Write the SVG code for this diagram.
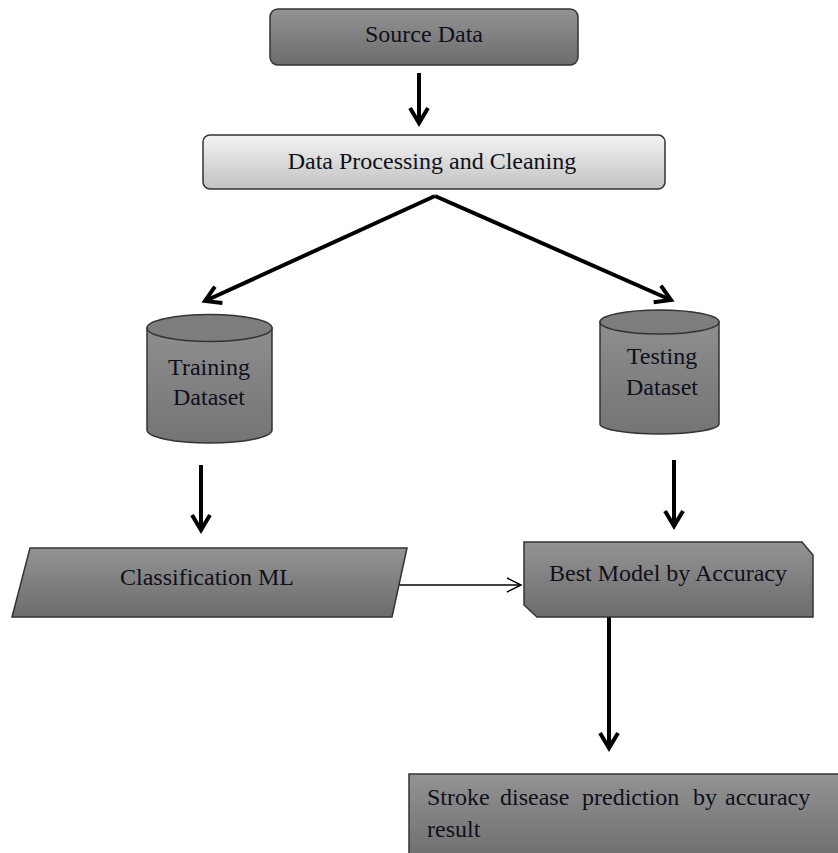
<svg xmlns="http://www.w3.org/2000/svg" width="838" height="853" viewBox="0 0 838 853">
<style>
.t{font-size:24px;fill:#10101c}
.c{text-anchor:middle}
.box{stroke:#333;stroke-width:1.5}
.thick{stroke:#000;stroke-width:4;fill:none}
.thin{stroke:#000;stroke-width:1.5;fill:none}
</style>
<defs>
<linearGradient id="dark" x1="0" y1="0" x2="0" y2="1">
<stop offset="0" stop-color="#939393"/><stop offset="1" stop-color="#6c6c6c"/>
</linearGradient>
<linearGradient id="light" x1="0" y1="0" x2="0" y2="1">
<stop offset="0" stop-color="#f3f3f3"/><stop offset="1" stop-color="#c2c2c2"/>
</linearGradient>
<linearGradient id="cyl" x1="0" y1="0" x2="0" y2="1">
<stop offset="0" stop-color="#8e8e8e"/><stop offset="1" stop-color="#747474"/>
</linearGradient>
<marker id="head" markerUnits="userSpaceOnUse" markerWidth="30" markerHeight="30" viewBox="-20 -15 30 30" refX="0" refY="0" orient="auto">
<path d="M-15,-9 L0,0 L-15,9" fill="none" stroke="#000" stroke-width="4" stroke-linejoin="miter"/>
</marker>
<marker id="headThin" markerUnits="userSpaceOnUse" markerWidth="20" markerHeight="20" viewBox="-16 -10 20 20" refX="0" refY="0" orient="auto">
<path d="M-14,-7 L0,0 L-14,7" fill="none" stroke="#000" stroke-width="1.5"/>
</marker>
</defs>
<rect width="838" height="853" fill="#fff"/>

<g id="connectors">
<line class="thick" x1="419" y1="73" x2="419" y2="123" marker-end="url(#head)"/>
<line class="thick" x1="435" y1="196" x2="205" y2="301" marker-end="url(#head)"/>
<line class="thick" x1="435" y1="196" x2="671" y2="300" marker-end="url(#head)"/>
<line class="thick" x1="201" y1="465" x2="201" y2="530" marker-end="url(#head)"/>
<line class="thick" x1="674" y1="460" x2="674" y2="526" marker-end="url(#head)"/>
<line class="thin" x1="397" y1="585" x2="521" y2="585" marker-end="url(#headThin)"/>
<line class="thick" x1="609" y1="617" x2="609" y2="748" marker-end="url(#head)"/>
</g>

<g font-family="Liberation Serif, DejaVu Serif, serif">
<g id="source-data">
<rect class="box" x="270" y="9" width="308" height="56" rx="8" fill="url(#dark)"/>
<text class="t c" x="424" y="42">Source Data</text>
</g>

<g id="data-processing">
<rect class="box" x="203" y="135" width="462" height="54" rx="7" fill="url(#light)"/>
<text class="t c" x="432" y="169">Data Processing and Cleaning</text>
</g>

<g id="training-dataset">
<path class="box" d="M147,328 L147,430 A62.5,13 0 0 0 272,430 L272,328 Z" fill="url(#cyl)"/>
<ellipse class="box" cx="209.5" cy="328" rx="62.5" ry="13.5" fill="#7d7d7d"/>
<text class="t c" x="209" y="375">Training</text>
<text class="t c" x="209" y="405">Dataset</text>
</g>

<g id="testing-dataset">
<path class="box" d="M600,322 L600,424 A59.5,10 0 0 0 719,424 L719,322 Z" fill="url(#cyl)"/>
<ellipse class="box" cx="659.5" cy="322" rx="59.5" ry="12" fill="#7d7d7d"/>
<text class="t c" x="662" y="364">Testing</text>
<text class="t c" x="662" y="395">Dataset</text>
</g>

<g id="classification-ml">
<polygon class="box" points="30,548 407,548 392,617 12,617" fill="url(#dark)"/>
<text class="t c" x="207" y="585">Classification ML</text>
</g>

<g id="best-model">
<polygon class="box" points="524,542 802,542 813,555 813,617 537,617 524,605" fill="url(#dark)"/>
<text class="t c" x="668" y="581">Best Model by Accuracy</text>
</g>

<g id="stroke-prediction">
<rect class="box" x="409" y="774" width="440" height="90" fill="url(#dark)"/>
<text class="t" y="805"><tspan x="427">Stroke</tspan><tspan x="500">disease</tspan><tspan x="582">prediction</tspan><tspan x="693">by</tspan><tspan x="725">accuracy</tspan></text>
<text class="t" x="427" y="837">result</text>
</g>
</g>
</svg>
